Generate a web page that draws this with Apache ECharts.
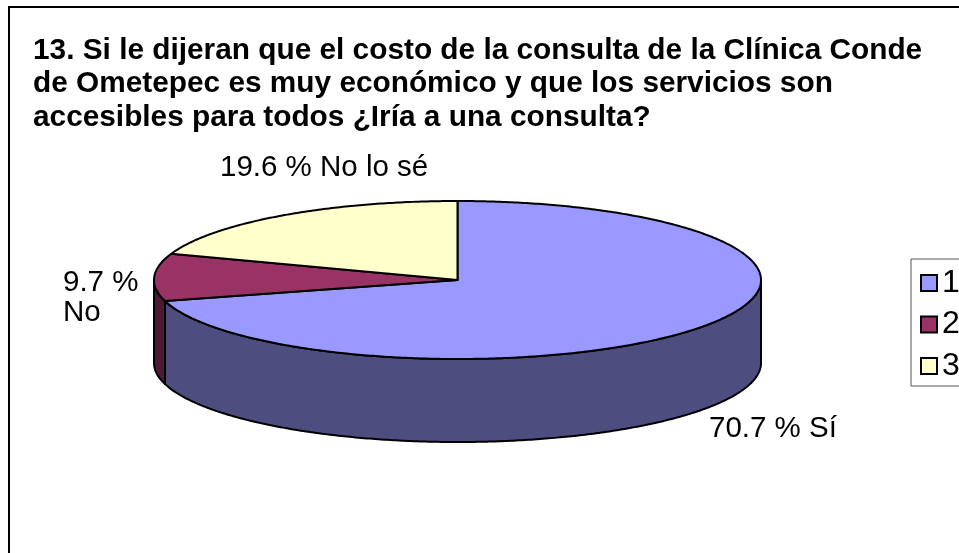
<!DOCTYPE html>
<html>
<head>
<meta charset="utf-8">
<style>html,body{margin:0;padding:0;background:#fff}#c{width:959px;height:553px}</style>
<script src="https://cdn.jsdelivr.net/npm/echarts@6/dist/echarts.min.js"></script>
</head>
<body>
<div id="c"></div>
<script>
// Survey answers, question 13
const questionTitle = '13. Si le dijeran que el costo de la consulta de la Clínica Conde\nde Ometepec es muy económico y que los servicios son\naccesibles para todos ¿Iría a una consulta?';
const legendNames = ['1', '2', '3'];
const answers = ['Sí', 'No', 'No lo sé'];
const percentages = [70.7, 9.7, 19.6];
const topColors = ['#9999FF', '#993366', '#FFFFCC'];
const sideColors = ['#4D4D80', '#4D1A33', '#808066'];

// Geometry of the tilted disc and where each slice's caption sits
const disc = { cx: 457.5, cy: 280, rx: 303.5, ry: 79, depth: 83 };
const captionSpots = [
  { x: 709, y: 429, sep: ' ' },
  { x: 63, y: 298, sep: '\n' },
  { x: 220, y: 168, sep: ' ' }
];
const FONT = '"Liberation Sans", Arial, sans-serif';
const total = percentages.reduce((a, b) => a + b, 0);

function rimPoint(t, drop) {
  return [disc.cx + disc.rx * Math.sin(t), disc.cy - disc.ry * Math.cos(t) + (drop || 0)];
}
function arcPoints(a, b, drop) {
  const n = Math.max(2, Math.ceil(Math.abs(b - a) / 0.01));
  const pts = [];
  for (let i = 0; i <= n; i++) pts.push(rimPoint(a + (b - a) * i / n, drop));
  return pts;
}

function sliceRenderer(index) {
  return function (params, api) {
    const before = percentages.slice(0, index).reduce((a, b) => a + b, 0);
    const start = before / total * 2 * Math.PI;
    const end = (before + api.value(0)) / total * 2 * Math.PI;
    const children = [];
    const line = { stroke: '#000', lineWidth: 2, lineJoin: 'round' };

    // The outer wall only shows along the front half of the rim
    const wallFrom = Math.max(start, Math.PI / 2);
    const wallTo = Math.min(end, 3 * Math.PI / 2);
    if (wallTo > wallFrom) {
      const wall = arcPoints(wallFrom, wallTo, 0).concat(arcPoints(wallTo, wallFrom, disc.depth));
      children.push({
        type: 'polygon', shape: { points: wall },
        style: Object.assign({ fill: sideColors[index] }, line)
      });
    }
    const face = [[disc.cx, disc.cy]].concat(arcPoints(start, end, 0));
    children.push({
      type: 'polygon', shape: { points: face },
      style: Object.assign({ fill: topColors[index] }, line)
    });

    const spot = captionSpots[index];
    children.push({
      type: 'text', x: spot.x, y: spot.y,
      style: {
        text: api.value(0).toFixed(1) + ' %' + spot.sep + answers[index],
        font: '29.5px ' + FONT, fill: '#000', textVerticalAlign: 'middle', lineHeight: 30
      }
    });
    return { type: 'group', children: children };
  };
}

const chart = echarts.init(document.getElementById('c'), null, { renderer: 'canvas' });
chart.setOption({
  animation: false,
  backgroundColor: '#fff',
  title: {
    text: questionTitle, left: 33, top: 34, padding: 0,
    textStyle: { fontFamily: FONT, fontSize: 29.8, fontWeight: 'bold', color: '#000', lineHeight: 33.5 }
  },
  legend: {
    data: legendNames, orient: 'vertical', left: 911, top: 259,
    padding: [8, 40, 4, 9], itemWidth: 16, itemHeight: 16, itemGap: 9.5,
    borderColor: '#555', borderWidth: 1, icon: 'rect', itemStyle: { borderColor: '#000', borderWidth: 2 },
    textStyle: { fontFamily: FONT, fontSize: 32, color: '#000' }
  },
  graphic: [{
    type: 'rect', silent: true,
    shape: { x: 9, y: 7, width: 1200, height: 800 },
    style: { fill: 'none', stroke: '#000', lineWidth: 2 }
  }],
  series: legendNames.map((name, i) => ({
    type: 'custom', name: name, coordinateSystem: 'none',
    itemStyle: { color: topColors[i] },
    data: [[percentages[i]]],
    renderItem: sliceRenderer(i)
  }))
});
</script>
</body>
</html>
